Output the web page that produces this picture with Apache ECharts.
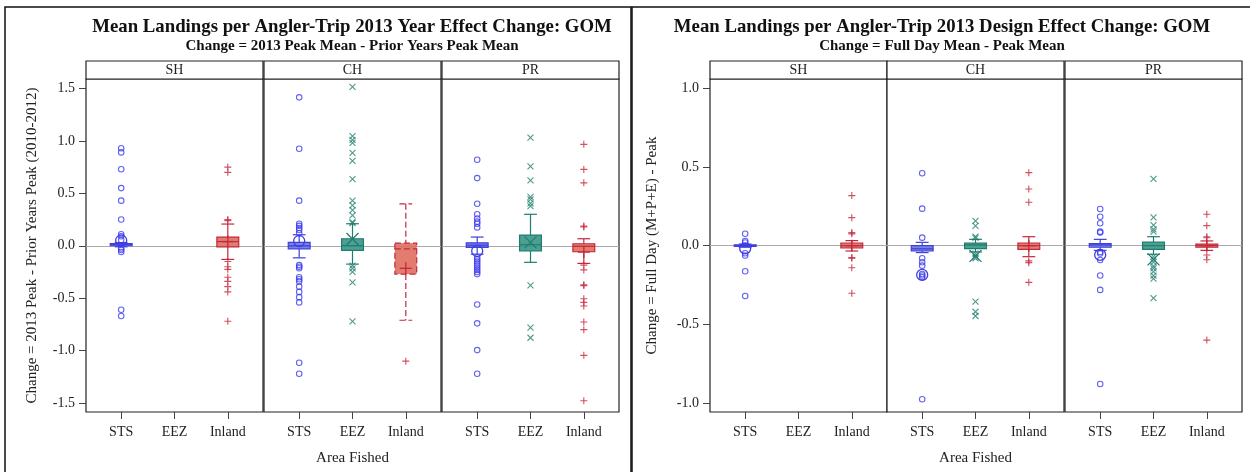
<!DOCTYPE html>
<html>
<head>
<meta charset="utf-8">
<script src="https://cdn.jsdelivr.net/npm/echarts@6/dist/echarts.min.js"></script>
<style>
  html, body { margin: 0; padding: 0; background: #fff; }
  #chart { width: 1250px; height: 472px; }
</style>
</head>
<body>
<div id="chart"></div>
<script>
const areas = ["STS", "EEZ", "Inland"];
const strata = ["SH", "CH", "PR"];
const yearTicks = [-1.5, -1, -0.5, 0, 0.5, 1, 1.5];
const designTicks = [-1, -0.5, 0, 0.5, 1];

// box rows: [area index, low whisker, q1, median, q3, high whisker, mean]
const yearBoxSH = [[0, -0.01, 0.0, 0.01, 0.02, 0.03, 0.05], [2, -0.13, -0.01, 0.04, 0.083, 0.207, 0.04]];
const yearBoxCH = [[0, -0.115, -0.029, 0.0, 0.032, 0.105, 0.045], [1, -0.175, -0.044, 0.0, 0.067, 0.21, 0.064], [2, -0.71, -0.27, -0.03, 0.025, 0.4, -0.215]];
const yearBoxPR = [[0, -0.08, -0.016, 0.005, 0.028, 0.083, -0.05], [1, -0.158, -0.048, 0.01, 0.102, 0.3, 0.032], [2, -0.168, -0.057, -0.005, 0.019, 0.067, -0.06]];

const designBoxSH = [[0, -0.01, -0.005, 0.0, 0.005, 0.01, -0.017], [2, -0.034, -0.015, 0.0, 0.017, 0.032, 0.0]];
const designBoxCH = [[0, -0.044, -0.034, -0.02, 0.0, 0.021, -0.186], [1, -0.04, -0.019, 0.005, 0.017, 0.04, -0.065], [2, -0.07, -0.023, 0.0, 0.017, 0.057, 0.0]];
const designBoxPR = [[0, -0.03, -0.01, 0.005, 0.013, 0.04, -0.059], [1, -0.055, -0.023, 0.0, 0.022, 0.057, -0.087], [2, -0.03, -0.01, 0.0, 0.01, 0.03, 0.0]];

// outliers
const yearSH_STS = [0.93, 0.89, 0.73, 0.55, 0.43, 0.25, 0.11, 0.09, 0.055, -0.025, -0.04, -0.06, -0.61, -0.67];
const yearSH_Inland = [0.75, 0.7, 0.25, 0.24, -0.15, -0.2, -0.225, -0.3, -0.34, -0.39, -0.44, -0.72];
const yearCH_STS = [1.415, 0.925, 0.43, 0.21, 0.19, 0.17, 0.15, 0.12, -0.185, -0.2, -0.215, -0.3, -0.32, -0.34, -0.39, -0.44, -0.49, -0.54, -1.115, -1.22];
const yearCH_EEZ = [1.515, 1.045, 1.01, 0.98, 0.886, 0.81, 0.636, 0.43, 0.385, 0.34, 0.29, 0.225, 0.215, -0.19, -0.215, -0.25, -0.35, -0.72];
const yearCH_Inland = [-1.1];
const yearPR_STS = [0.82, 0.645, 0.4, 0.3, 0.26, 0.23, 0.21, 0.175, -0.11, -0.13, -0.15, -0.17, -0.19, -0.21, -0.23, -0.25, -0.27, -0.56, -0.74, -0.995, -1.22];
const yearPR_EEZ = [1.03, 0.757, 0.623, 0.467, 0.442, 0.404, 0.378, -0.378, -0.78, -0.877];
const yearPR_Inland = [0.967, 0.728, 0.6, 0.188, 0.18, -0.185, -0.23, -0.372, -0.38, -0.505, -0.54, -0.575, -0.727, -0.8, -1.045, -1.478];

const designSH_STS = [0.076, 0.03, 0.02, -0.048, -0.063, -0.163, -0.32];
const designSH_Inland = [0.318, 0.178, 0.083, 0.075, -0.076, -0.08, -0.14, -0.302];
const designCH_STS = [0.46, 0.235, 0.051, -0.08, -0.105, -0.127, -0.18, -0.19, -0.2, -0.976];
const designCH_EEZ = [0.157, 0.125, 0.057, 0.05, -0.05, -0.07, -0.08, -0.356, -0.42, -0.447];
const designCH_Inland = [0.464, 0.36, 0.276, -0.097, -0.108, -0.233];
const designPR_STS = [0.233, 0.184, 0.142, 0.089, 0.083, -0.04, -0.05, -0.091, -0.19, -0.281, -0.879];
const designPR_EEZ = [0.424, 0.18, 0.13, 0.104, 0.089, -0.07, -0.087, -0.105, -0.13, -0.145, -0.165, -0.19, -0.21, -0.334];
const designPR_Inland = [0.2, 0.127, 0.057, 0.05, -0.059, -0.09, -0.6];

const FONT = '"Liberation Serif", "DejaVu Serif", serif';
const palette = [
  { line: "#3f3fe0", fill: "rgba(95,110,215,0.85)", mark: "#3b3bf0" },
  { line: "#1f7d6e", fill: "rgba(55,150,135,0.9)", mark: "#22806f" },
  { line: "#c4283c", fill: "rgba(222,110,95,0.9)", mark: "#c4233a" },
];
const markSymbols = ["circle", "path://M0,0L10,10M0,10L10,0", "path://M5,0L5,10M0,5L10,5"];
const markSizes = [5.5, 6, 7];

const panels = [
  { chart: "year", s: 0, left: 86, box: yearBoxSH, out: [yearSH_STS, [], yearSH_Inland] },
  { chart: "year", s: 1, left: 264, box: yearBoxCH, out: [yearCH_STS, yearCH_EEZ, yearCH_Inland], dashed: [2] },
  { chart: "year", s: 2, left: 442, box: yearBoxPR, out: [yearPR_STS, yearPR_EEZ, yearPR_Inland] },
  { chart: "design", s: 0, left: 710, box: designBoxSH, out: [designSH_STS, [], designSH_Inland] },
  { chart: "design", s: 1, left: 887, box: designBoxCH, out: [designCH_STS, designCH_EEZ, designCH_Inland] },
  { chart: "design", s: 2, left: 1065, box: designBoxPR, out: [designPR_STS, designPR_EEZ, designPR_Inland] },
];
const PW = 177, TOP = 79, PH = 333;

function meanMark(a, cx, cy, col) {
  const st = { stroke: col, lineWidth: 1.3, fill: "none" };
  if (a === 0) return [{ type: "circle", shape: { cx: cx, cy: cy, r: 5.5 }, style: st }];
  const h = 6;
  if (a === 1) {
    return [
      { type: "line", shape: { x1: cx - h, y1: cy - h, x2: cx + h, y2: cy + h }, style: st },
      { type: "line", shape: { x1: cx - h, y1: cy + h, x2: cx + h, y2: cy - h }, style: st },
    ];
  }
  return [
    { type: "line", shape: { x1: cx - h, y1: cy, x2: cx + h, y2: cy }, style: st },
    { type: "line", shape: { x1: cx, y1: cy - h, x2: cx, y2: cy + h }, style: st },
  ];
}

function boxRenderer(dashed) {
  return function (params, api) {
    const a = api.value(0);
    const pt = (v) => api.coord([a, v]);
    const lo = pt(api.value(1)), q1 = pt(api.value(2)), md = pt(api.value(3));
    const q3 = pt(api.value(4)), hi = pt(api.value(5)), mn = pt(api.value(6));
    const cx = lo[0];
    const hw = api.size([0.41, 0])[0] / 2;
    const cw = api.size([0.24, 0])[0] / 2;
    const col = palette[a];
    const dash = dashed && dashed.includes(a) ? [6, 3] : null;
    const line = (x1, y1, x2, y2) => ({
      type: "line",
      shape: { x1, y1, x2, y2 },
      style: { stroke: col.line, lineWidth: 1.2, lineDash: dash },
    });
    const kids = [
      line(cx, hi[1], cx, q3[1]),
      line(cx, q1[1], cx, lo[1]),
      line(cx - cw, hi[1], cx + cw, hi[1]),
      line(cx - cw, lo[1], cx + cw, lo[1]),
      {
        type: "rect",
        shape: { x: cx - hw, y: q3[1], width: 2 * hw, height: Math.max(q1[1] - q3[1], 1.5) },
        style: { fill: col.fill, stroke: col.line, lineWidth: 1.2, lineDash: dash },
      },
      line(cx - hw, md[1], cx + hw, md[1]),
    ];
    return { type: "group", children: kids.concat(meanMark(a, cx, mn[1], col.line)) };
  };
}

const chart = echarts.init(document.getElementById("chart"));

const grids = [], xAxes = [], yAxes = [], series = [];
const graphics = [
  { type: "rect", shape: { x: 5, y: 7, width: 626, height: 480 }, style: { fill: "none", stroke: "#111", lineWidth: 1.5 } },
  { type: "rect", shape: { x: 632, y: 7, width: 630, height: 480 }, style: { fill: "none", stroke: "#111", lineWidth: 1.5 } },
  { type: "text", x: 352, y: 27, style: { text: "Mean Landings per Angler-Trip 2013 Year Effect Change: GOM", font: 'bold 18.8px ' + FONT, fill: "#111", align: "center", verticalAlign: "middle" } },
  { type: "text", x: 352, y: 46, style: { text: "Change = 2013 Peak Mean - Prior Years Peak Mean", font: 'bold 15px ' + FONT, fill: "#111", align: "center", verticalAlign: "middle" } },
  { type: "text", x: 942, y: 27, style: { text: "Mean Landings per Angler-Trip 2013 Design Effect Change: GOM", font: 'bold 18.8px ' + FONT, fill: "#111", align: "center", verticalAlign: "middle" } },
  { type: "text", x: 942, y: 46, style: { text: "Change = Full Day Mean - Peak Mean", font: 'bold 15px ' + FONT, fill: "#111", align: "center", verticalAlign: "middle" } },
];

panels.forEach((p, i) => {
  const isYear = p.chart === "year";
  const first = p.s === 0;
  const ticks = isYear ? yearTicks : designTicks;

  grids.push({ left: p.left, top: TOP, width: PW, height: PH, show: true, borderColor: "#222", borderWidth: 1.2, backgroundColor: "#fff" });

  xAxes.push({
    gridIndex: i,
    type: "value",
    min: -0.66,
    max: 2.66,
    splitLine: { show: false },
    axisLine: { show: false, onZero: false },
    axisTick: { show: true, customValues: [0, 1, 2], length: 7, lineStyle: { color: "#444" } },
    axisLabel: { customValues: [0, 1, 2], formatter: (v) => areas[Math.round(v)], fontFamily: FONT, fontSize: 14, color: "#222", margin: 13 },
    name: p.s === 1 ? "Area Fished" : "",
    nameLocation: "middle",
    nameGap: 39,
    nameTextStyle: { fontFamily: FONT, fontSize: 15, color: "#222" },
  });

  yAxes.push({
    gridIndex: i,
    type: "value",
    min: isYear ? -1.585 : -1.057,
    max: isYear ? 1.59 : 1.059,
    splitLine: { show: false },
    axisLine: { show: false, onZero: false },
    axisTick: { show: first, customValues: ticks, length: 7, lineStyle: { color: "#444" } },
    axisLabel: { show: first, customValues: ticks, formatter: (v) => v.toFixed(1), fontFamily: FONT, fontSize: 14, color: "#222", margin: 11 },
    name: first ? (isYear ? "Change = 2013 Peak - Prior Years Peak (2010-2012)" : "Change = Full Day (M+P+E) - Peak") : "",
    nameLocation: "middle",
    nameGap: isYear ? 46 : 50,
    nameTextStyle: { fontFamily: FONT, fontSize: 15, color: "#222" },
  });

  series.push({
    type: "custom",
    xAxisIndex: i,
    yAxisIndex: i,
    renderItem: boxRenderer(p.dashed),
    data: p.box,
    encode: { x: 0, y: 3 },
    z: 2,
    markLine: {
      silent: true,
      symbol: "none",
      label: { show: false },
      lineStyle: { color: "#aaa", width: 1.2, type: "solid" },
      data: [{ yAxis: 0 }],
      z: 1,
    },
  });

  p.out.forEach((vals, a) => {
    if (!vals.length) return;
    series.push({
      type: "scatter",
      xAxisIndex: i,
      yAxisIndex: i,
      symbol: markSymbols[a],
      symbolSize: markSizes[a],
      itemStyle: { color: "rgba(0,0,0,0)", borderColor: palette[a].mark, borderWidth: 1.1 },
      data: vals.map((v) => [a, v]),
      z: 3,
    });
  });

  graphics.push({ type: "rect", shape: { x: p.left, y: 61, width: PW, height: 18 }, style: { fill: "#fff", stroke: "#222", lineWidth: 1.2 } });
  graphics.push({ type: "text", x: p.left + PW / 2, y: 70.5, style: { text: strata[p.s], font: '14px ' + FONT, fill: "#222", align: "center", verticalAlign: "middle" } });
});

chart.setOption({
  animation: false,
  backgroundColor: "#fff",
  grid: grids,
  xAxis: xAxes,
  yAxis: yAxes,
  series: series,
  graphic: graphics,
});
</script>
</body>
</html>
